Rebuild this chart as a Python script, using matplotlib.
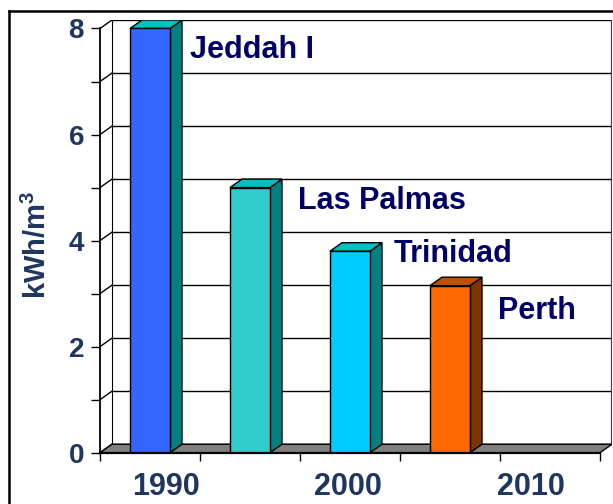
import numpy as np
import matplotlib.pyplot as plt
from matplotlib.patches import Polygon
from matplotlib.lines import Line2D

# ---------------------------------------------------------------------------
# Data
# ---------------------------------------------------------------------------
plants = ['Jeddah I', 'Las Palmas', 'Trinidad', 'Perth']
positions = [0, 1, 2, 3]          # category slots (1990, 1995, 2000, 2005)
energy = [8.0, 5.0, 3.8, 3.15]    # kWh/m3
year_labels = ['1990', '2000', '2010']
n_slots = 5

# layout: where the year labels and plant names sit
year_label_pos = [0.16, 1.98, 3.81]
label_x = [0.40, 1.48, 2.44, 3.48]
label_y = [7.45, 4.59, 3.60, 2.52]

front_colors = ['#3366FF', '#33CCCC', '#00CCFF', '#FF6600']
side_colors = ['#008080', '#008080', '#008080', '#803300']
top_colors = ['#00C0C0', '#00C0C0', '#00C0C0', '#C05000']

# ---------------------------------------------------------------------------
# Style
# ---------------------------------------------------------------------------
plt.rcParams['font.family'] = ['Liberation Sans', 'DejaVu Sans']
plt.rcParams['font.weight'] = 'bold'
plt.rcParams['mathtext.fontset'] = 'custom'
plt.rcParams['mathtext.rm'] = 'Liberation Sans:bold'
plt.rcParams['mathtext.it'] = 'Liberation Sans:bold'
plt.rcParams['mathtext.bf'] = 'Liberation Sans:bold'
TICK_COLOR = '#1f3660'
LABEL_COLOR = '#000066'
DX, DY = 0.12, 0.16      # 3d depth offset in data units
BAR_W = 0.4
YMAX = 8

fig = plt.figure(figsize=(6.13, 5.04), dpi=100)
W, H = 613, 504
ax = fig.add_axes([100 / W, (H - 452.7) / H, 512 / W, 432.7 / H])
ax.set_xlim(-0.5, n_slots - 0.5 + DX)
ax.set_ylim(0, YMAX + DY)

x0, x1 = -0.5, n_slots - 0.5

# back wall gridlines and left side wall
for k in range(YMAX + 1):
    ax.plot([x0 + DX, x1 + DX], [k + DY, k + DY], color='black', lw=1.0, zorder=1)
    ax.plot([x0, x0 + DX], [k, k + DY], color='black', lw=1.0, zorder=1)
ax.plot([x0 + DX, x0 + DX], [DY, YMAX + DY], color='black', lw=0.8, zorder=1)
ax.plot([x1 + DX, x1 + DX], [DY, YMAX + DY], color='#404040', lw=1.6, zorder=1)

# floor
ax.add_patch(Polygon([(x0, 0), (x1, 0), (x1 + DX, DY), (x0 + DX, DY)],
                     closed=True, facecolor='#808080', edgecolor='black',
                     lw=1.0, zorder=2))

# bars: front faces through ax.bar, side and top faces offset by depth
ax.bar(positions, energy, width=BAR_W, color=front_colors,
       edgecolor='black', linewidth=1.0, zorder=4)
for x, v, sc, tc in zip(positions, energy, side_colors, top_colors):
    xr, xl = x + BAR_W / 2, x - BAR_W / 2
    ax.add_patch(Polygon([(xr, 0), (xr + DX, DY), (xr + DX, v + DY), (xr, v)],
                         closed=True, facecolor=sc, edgecolor='black',
                         lw=1.0, zorder=3))
    ax.add_patch(Polygon([(xl, v), (xr, v), (xr + DX, v + DY), (xl + DX, v + DY)],
                         closed=True, facecolor=tc, edgecolor='black',
                         lw=1.0, zorder=3))

for name, lx, ly in zip(plants, label_x, label_y):
    ax.text(lx, ly, name, color=LABEL_COLOR, fontsize=22, fontweight='bold',
            ha='left', va='baseline', zorder=5)

# axes
for s in ['top', 'right']:
    ax.spines[s].set_visible(False)
ax.spines['left'].set_bounds(0, YMAX)
ax.spines['bottom'].set_bounds(x0, x1)
ax.spines['left'].set_linewidth(1.3)
ax.spines['bottom'].set_linewidth(1.6)
ax.spines['left'].set_zorder(6)
ax.spines['bottom'].set_zorder(6)

ax.set_yticks([0, 2, 4, 6, 8])
ax.set_yticks([1, 3, 5, 7], minor=True)
ax.tick_params(axis='y', which='both', length=6.5, width=1.0, direction='out',
               labelsize=20, labelcolor=TICK_COLOR, pad=5)

ax.set_xticks(np.arange(x0, x1 + 0.01, 1.0))
ax.set_xticklabels([])
ax.set_xticks(year_label_pos, minor=True)
ax.set_xticklabels(year_labels, minor=True)
ax.tick_params(axis='x', which='major', length=5.5, width=1.0, direction='out')
ax.tick_params(axis='x', which='minor', length=0, labelsize=22,
               labelcolor=TICK_COLOR, pad=14)
for lab in ax.get_xticklabels(minor=True) + ax.get_yticklabels():
    lab.set_fontweight('bold')

ax.set_ylabel(r'kWh/m$^{3}$', fontsize=21, fontweight='bold', color=TICK_COLOR)
ax.yaxis.set_label_coords(-48 / 512, 0.48)

# outer frame of the slide graphic
fig.add_artist(Line2D([9 / W, 1.0], [1 - 11 / H, 1 - 11 / H],
                      color='black', lw=1.8, transform=fig.transFigure))
fig.add_artist(Line2D([9 / W, 9 / W], [0, 1 - 11 / H],
                      color='black', lw=1.8, transform=fig.transFigure))

fig.savefig('out.png', dpi=100)
